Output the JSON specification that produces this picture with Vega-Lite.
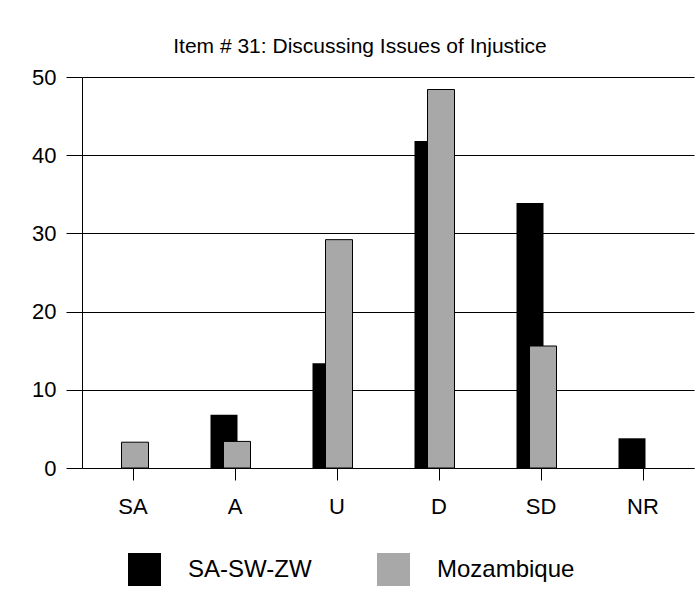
{
  "$schema": "https://vega.github.io/schema/vega-lite/v6.json",
  "autosize": {"type": "none"},
  "width": 612,
  "height": 391,
  "padding": {"left": 82, "top": 77, "right": 2, "bottom": 138},
  "background": "white",
  "title": {
    "text": "Item # 31:  Discussing Issues of Injustice",
    "font": "Liberation Sans",
    "fontSize": 21,
    "fontWeight": "normal",
    "color": "#000",
    "anchor": "middle",
    "dx": -28,
    "offset": 9
  },
  "data": {
    "values": [
      {"cat": "SA", "group": "SA-SW-ZW", "value": 0},
      {"cat": "A", "group": "SA-SW-ZW", "value": 6.8},
      {"cat": "U", "group": "SA-SW-ZW", "value": 13.4},
      {"cat": "D", "group": "SA-SW-ZW", "value": 41.8},
      {"cat": "SD", "group": "SA-SW-ZW", "value": 33.9},
      {"cat": "NR", "group": "SA-SW-ZW", "value": 3.8},
      {"cat": "SA", "group": "Mozambique", "value": 3.3},
      {"cat": "A", "group": "Mozambique", "value": 3.4},
      {"cat": "U", "group": "Mozambique", "value": 29.2},
      {"cat": "D", "group": "Mozambique", "value": 48.4},
      {"cat": "SD", "group": "Mozambique", "value": 15.6}
    ]
  },
  "encoding": {
    "x": {
      "field": "cat",
      "type": "nominal",
      "sort": ["SA", "A", "U", "D", "SD", "NR"],
      "scale": {"domain": ["SA", "A", "U", "D", "SD", "NR"], "paddingInner": 0, "paddingOuter": 0},
      "axis": {
        "title": null,
        "labelAngle": 0,
        "labelFont": "Liberation Sans",
        "labelFontSize": 22,
        "labelColor": "#000",
        "tickColor": "#000",
        "tickSize": 12,
        "domainColor": "#000",
        "labelPadding": 16,
        "grid": false
      }
    },
    "y": {
      "field": "value",
      "type": "quantitative",
      "scale": {"domain": [0, 50], "nice": false},
      "axis": {
        "title": null,
        "values": [0, 10, 20, 30, 40, 50],
        "labelFont": "Liberation Sans",
        "labelFontSize": 22,
        "labelColor": "#000",
        "tickColor": "#000",
        "tickSize": 16,
        "labelPadding": 10,
        "domainColor": "#000",
        "grid": true,
        "gridColor": "#000",
        "gridOpacity": 1,
        "gridWidth": 1
      }
    },
    "color": {
      "field": "group",
      "type": "nominal",
      "scale": {"domain": ["SA-SW-ZW", "Mozambique"], "range": ["#000000", "#a8a8a8"]},
      "legend": {
        "title": null,
        "orient": "none",
        "legendX": 46,
        "legendY": 476,
        "direction": "horizontal",
        "columns": 2,
        "columnPadding": 65,
        "symbolType": "square",
        "symbolSize": 1089,
        "symbolStrokeWidth": 0,
        "labelFont": "Liberation Sans",
        "labelFontSize": 24,
        "labelColor": "#000",
        "labelOffset": 27
      }
    }
  },
  "layer": [
    {
      "transform": [{"filter": "datum.group == 'SA-SW-ZW'"}],
      "mark": {"type": "bar", "width": 27, "xOffset": -11}
    },
    {
      "transform": [{"filter": "datum.group == 'Mozambique'"}],
      "mark": {"type": "bar", "width": 27, "xOffset": 2, "stroke": "#000", "strokeWidth": 1}
    }
  ],
  "config": {
    "view": {"stroke": null},
    "axis": {"domainWidth": 1, "tickWidth": 1}
  }
}
